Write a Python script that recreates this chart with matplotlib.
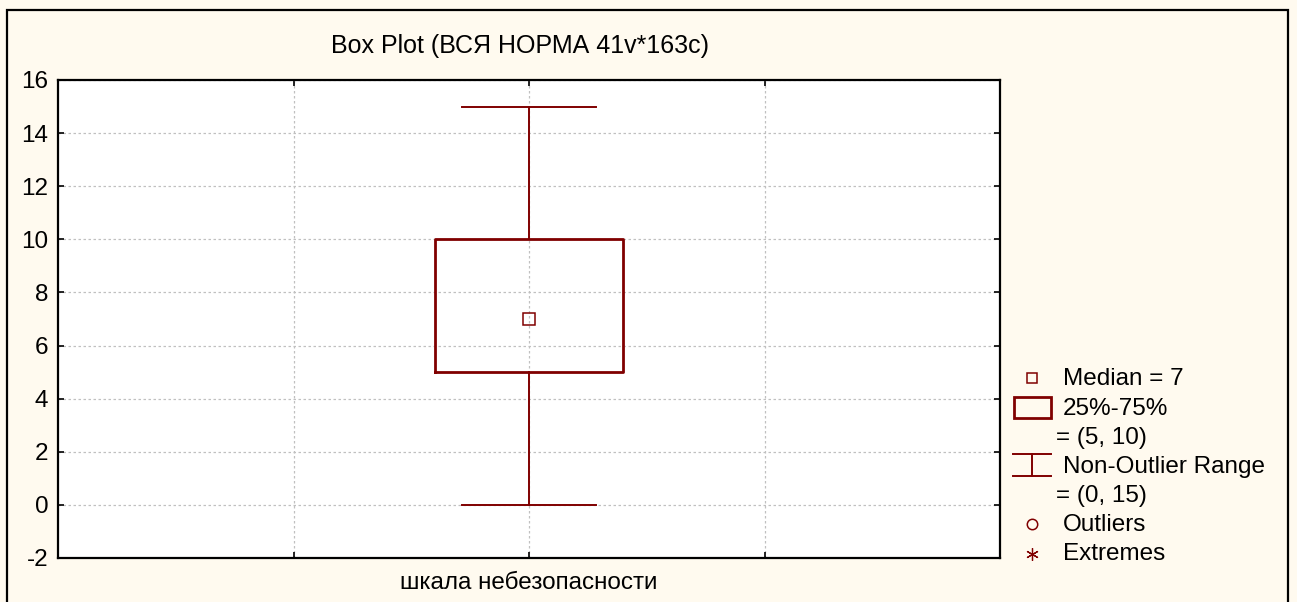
import matplotlib
matplotlib.use("Agg")
import matplotlib.pyplot as plt
from matplotlib.patches import Rectangle

plt.rcParams['font.family'] = ['Liberation Sans', 'DejaVu Sans']

# ---- data ----
categories = ['шкала небезопасности']
medians = [7]
q1 = [5]
q3 = [10]
whislo = [0]
whishi = [15]
title = 'Box Plot (ВСЯ НОРМА 41v*163c)'
yticks = [-2, 0, 2, 4, 6, 8, 10, 12, 14, 16]

W, H = 1297, 602
RED = '#800000'
BG = '#FFFAEF'
FS = 17.5

fig = plt.figure(figsize=(W / 100, H / 100), dpi=100)
fig.patch.set_facecolor(BG)

# outer frame (bottom edge falls outside the image)
fig.patches.append(Rectangle((7 / W, -0.05), (1288 - 7) / W, (H - 10) / H + 0.05,
                             transform=fig.transFigure, fill=False,
                             edgecolor='black', linewidth=1.6, zorder=0))

ax = fig.add_axes([58 / W, (H - 558) / H, 942 / W, 478 / H])
ax.set_facecolor('white')

stats = []
for i, c in enumerate(categories):
    stats.append(dict(label=c, med=medians[i], q1=q1[i], q3=q3[i],
                      whislo=whislo[i], whishi=whishi[i], fliers=[]))
positions = [2 + i for i in range(len(categories))]
ax.bxp(stats, positions=positions, widths=0.8, capwidths=0.565,
       showfliers=False,
       boxprops=dict(color=RED, linewidth=2.0),
       whiskerprops=dict(color=RED, linewidth=1.4),
       capprops=dict(color=RED, linewidth=1.4),
       medianprops=dict(visible=False), zorder=3)
ax.plot(positions, medians, linestyle='none', marker='s', markersize=8,
        markerfacecolor='none', markeredgecolor=RED, markeredgewidth=1.1, zorder=4)

ax.set_xlim(0, 4)
ax.set_ylim(-2, 16)
ax.set_yticks(yticks)
ax.set_yticklabels([str(v) for v in yticks])
ax.set_xticks([1, 2, 3])
ax.set_xticklabels(['', categories[0], ''])
ax.grid(True, color='#c0c0c0', linestyle=(0, (2, 2)), linewidth=0.9)
ax.set_axisbelow(True)
ax.tick_params(direction='in', length=4, width=1.2, top=True, right=True,
               labelsize=FS, colors='black')
ax.tick_params(axis='y', pad=7)
ax.tick_params(axis='x', pad=10)
for s in ax.spines.values():
    s.set_linewidth(1.6)
    s.set_color('black')

fig.text(520 / W, 1 - 46 / H, title, ha='center', va='center', fontsize=18)

# ---- legend (pixel coordinates) ----
lg = fig.add_axes([0, 0, 1, 1])
lg.set_xlim(0, W)
lg.set_ylim(H, 0)
lg.axis('off')
lg.patch.set_visible(False)

mx = 1032
lg.plot([mx], [378], marker='s', markersize=7.5, markerfacecolor='none',
        markeredgecolor=RED, markeredgewidth=1.1, linestyle='none')
lg.add_patch(Rectangle((1014, 397), 37, 21, fill=False, edgecolor=RED, linewidth=2.0))
lg.plot([1013, 1051], [454, 454], color=RED, lw=1.4)
lg.plot([1013, 1051], [476, 476], color=RED, lw=1.4)
lg.plot([mx, mx], [454, 476], color=RED, lw=1.4)
lg.plot([mx], [524], marker='o', markersize=7.5, markerfacecolor='none',
        markeredgecolor=RED, markeredgewidth=1.1, linestyle='none')
lg.plot([mx], [554], marker=(6, 2, 0), markersize=9, color=RED,
        markeredgewidth=0.9, linestyle='none')

entries = [
    (1063, 379, f'Median = {medians[0]}'),
    (1063, 409, '25%-75%'),
    (1056, 438, f'= ({q1[0]}, {q3[0]})'),
    (1063, 467, 'Non-Outlier Range'),
    (1056, 496, f'= ({whislo[0]}, {whishi[0]})'),
    (1063, 525, 'Outliers'),
    (1063, 554, 'Extremes'),
]
for x, y, t in entries:
    lg.text(x, y, t, ha='left', va='center', fontsize=FS)

fig.savefig('out.png', dpi=100, facecolor=BG)
